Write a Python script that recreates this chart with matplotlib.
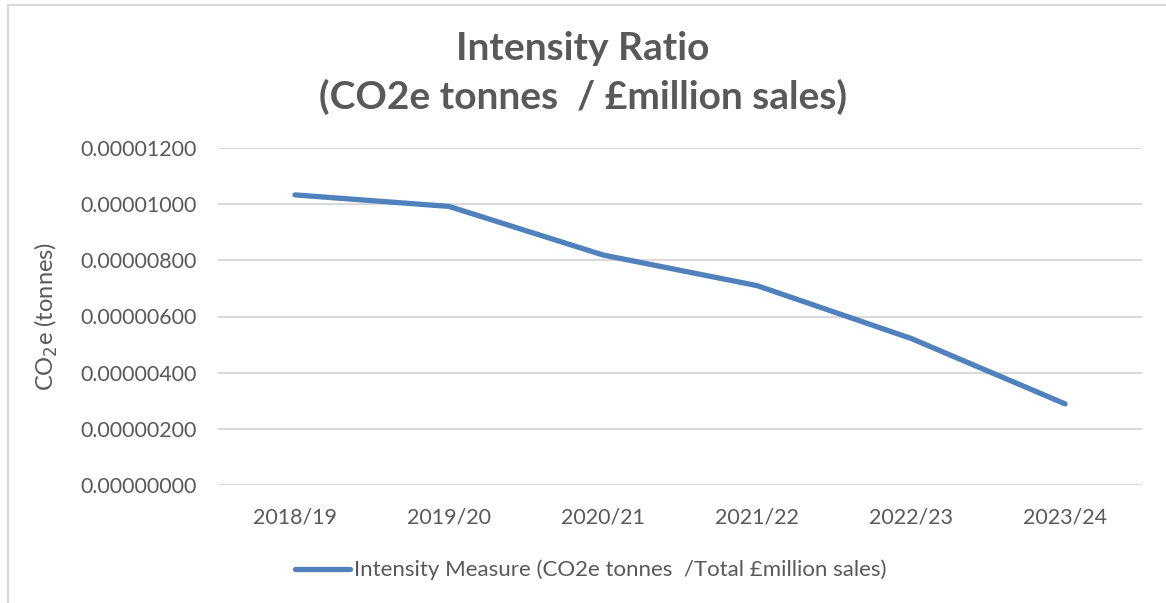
import matplotlib
matplotlib.use("Agg")
import matplotlib.pyplot as plt
from matplotlib.patches import Rectangle
from matplotlib.ticker import FuncFormatter

# Data
years = ["2018/19", "2019/20", "2020/21", "2021/22", "2022/23", "2023/24"]
intensity = [10.33e-6, 9.92e-6, 8.19e-6, 7.10e-6, 5.22e-6, 2.89e-6]
y_ticks = [0, 2e-6, 4e-6, 6e-6, 8e-6, 10e-6, 12e-6]

plt.rcParams['font.family'] = ['Lato', 'DejaVu Sans']
text_col = '#595959'
line_col = '#4F81BD'

W, H = 1166, 603
fig = plt.figure(figsize=(W / 100, H / 100), dpi=100)

# chart border (cut off on the right and bottom)
fig.patches.append(Rectangle((7.5 / W, -0.1), 1.2, 1 - 5.5 / H + 0.1,
                             transform=fig.transFigure, fill=False,
                             edgecolor='#D9D9D9', linewidth=1.5))

ax = fig.add_axes([218 / W, 118 / H, 924 / W, 337 / H])
x = range(len(years))
ax.plot(x, intensity, color=line_col, linewidth=3.8, solid_capstyle='round',
        label="Intensity Measure (CO2e tonnes  /Total £million sales)")

ax.set_xlim(-0.5, len(years) - 0.5)
ax.set_ylim(0, 12e-6)
ax.set_yticks(y_ticks)
ax.yaxis.set_major_formatter(FuncFormatter(lambda v, p: f"{v:.8f}"))
ax.set_xticks(list(x))
ax.set_xticklabels(years)
ax.grid(axis='y', color='#D9D9D9', linewidth=1.5)
ax.set_axisbelow(True)
for s in ax.spines.values():
    s.set_visible(False)
ax.tick_params(axis='both', length=0, labelsize=15.4, labelcolor=text_col)
ax.tick_params(axis='y', pad=15.5)
ax.tick_params(axis='x', pad=16)

ax.set_ylabel("CO$_2$e (tonnes)", fontsize=17, color=text_col)
ax.yaxis.set_label_coords((60 - 218) / 924, 0.5)

fig.text(0.5, 1 - 48 / H, "Intensity Ratio", ha='center', va='center',
         fontsize=28, fontweight='bold', color=text_col)
fig.text(0.5, 1 - 97 / H, "(CO2e tonnes  / £million sales)", ha='center',
         va='center', fontsize=28, fontweight='bold', color=text_col)

fig.legend(loc='center', bbox_to_anchor=(591 / W, 1 - 570 / H), frameon=False,
           fontsize=16, labelcolor=text_col, handlelength=2.45, handletextpad=0.22)

fig.savefig("out.png", dpi=100)
